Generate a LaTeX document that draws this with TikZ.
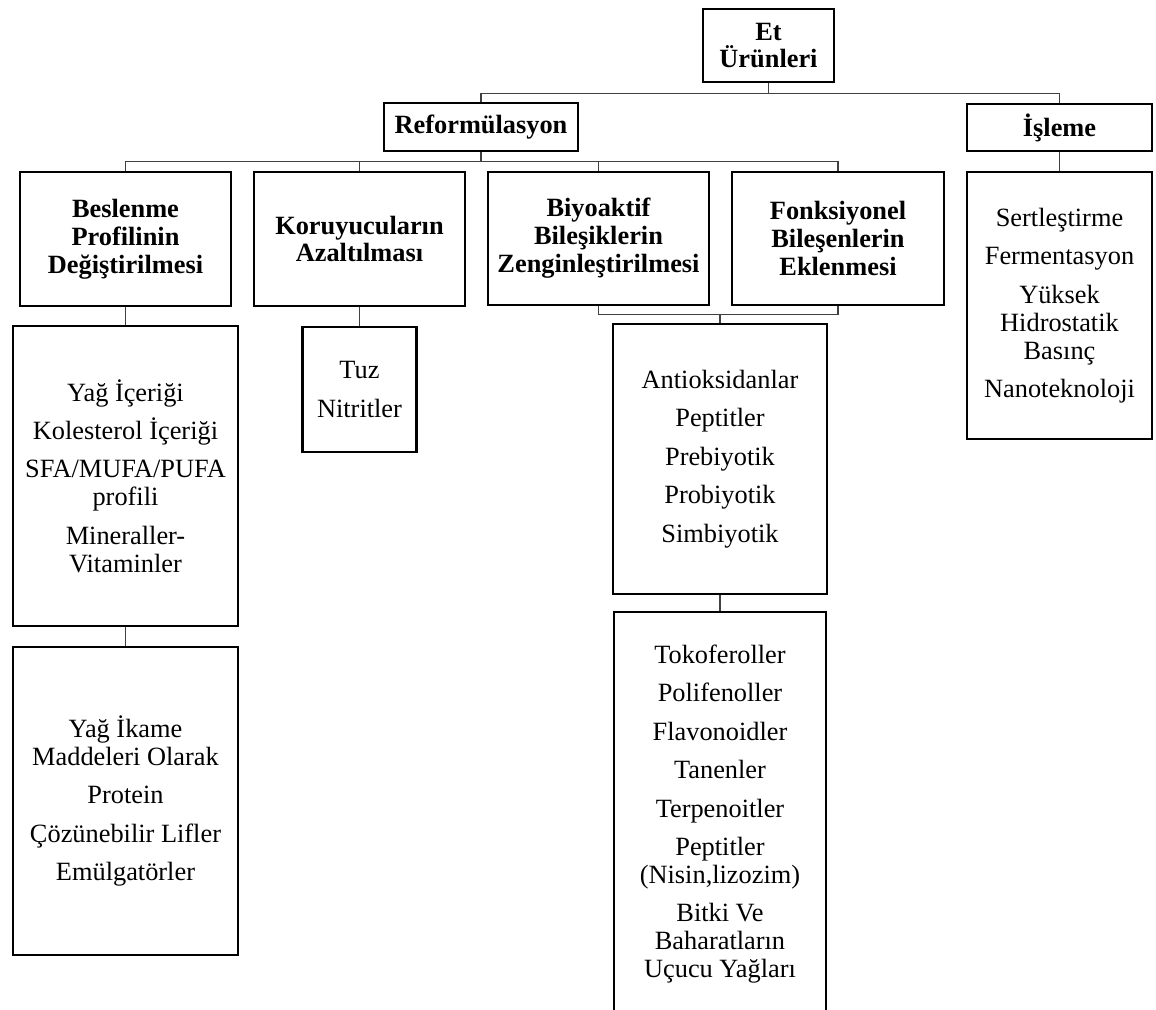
\documentclass[tikz,border=0pt]{standalone}
\usepackage{fontspec}
\setmainfont{Liberation Serif}
\usetikzlibrary{positioning}

\begin{document}
\begin{tikzpicture}[x=0.02cm,y=-0.02cm,
  box/.style={draw,line width=1.5pt,align=center,inner sep=0pt,
    font=\fontsize{15}{15.9}\selectfont},
  head/.style={box,font=\fontsize{15}{15.9}\selectfont\bfseries},
  conn/.style={draw=black!75,line width=0.6pt}]
  \useasboundingbox (0,0) rectangle (1156,1009);
  \clip (0,0) rectangle (1156,1009);
  % top levels
  \node[head,minimum width=2.62cm,minimum height=1.46cm] (et) at (768.5,45.5) {Et\\ Ürünleri};
  \node[head,minimum width=3.88cm,minimum height=0.96cm] (ref) at (481,127) {Reformülasyon};
  \node[head,minimum width=3.7cm,minimum height=0.94cm] (isl) at (1059.5,127.5) {İşleme};
  \node[head,minimum width=4.22cm,minimum height=2.68cm] (bes) at (125.5,239) {Beslenme\\ Profilinin\\ Değiştirilmesi};
  \node[head,minimum width=4.22cm,minimum height=2.68cm] (kor) at (359.5,239) {Koruyucuların\\ Azaltılması};
  \node[head,minimum width=4.42cm,minimum height=2.66cm] (biy) at (598.5,238.5) {Biyoaktif\\ Bileşiklerin\\ Zenginleştirilmesi};
  \node[head,minimum width=4.24cm,minimum height=2.66cm] (fon) at (838,238.5) {Fonksiyonel\\ Bileşenlerin\\ Eklenmesi};
  % lists
  \node[box,minimum width=4.5cm,minimum height=6cm] (yag) at (125.5,476) {Yağ İçeriği\\[6pt] Kolesterol İçeriği\\[6pt] SFA/MUFA/PUFA\\ profili\\[6pt] Mineraller-\\ Vitaminler};
  \node[box,minimum width=4.5cm,minimum height=6.16cm] (ika) at (125.5,801) {Yağ İkame\\ Maddeleri Olarak\\[6pt] Protein\\[6pt] Çözünebilir Lifler\\[6pt] Emülgatörler};
  \node[box,minimum width=2.28cm,minimum height=2.5cm] (tuz) at (359.5,389.5) {Tuz\\[6pt] Nitritler};
  \node[box,minimum width=4.28cm,minimum height=5.4cm] (ant) at (720,459) {Antioksidanlar\\[6pt] Peptitler\\[6pt] Prebiyotik\\[6pt] Probiyotik\\[6pt] Simbiyotik};
  \node[box,minimum width=4.24cm,minimum height=8.08cm] (tok) at (720,814) {Tokoferoller\\[6pt] Polifenoller\\[6pt] Flavonoidler\\[6pt] Tanenler\\[6pt] Terpenoitler\\[6pt] Peptitler\\ (Nisin,lizozim)\\[6pt] Bitki Ve\\ Baharatların\\ Uçucu Yağları};
  \node[box,minimum width=3.7cm,minimum height=5.34cm] (isc) at (1059.5,305.5) {Sertleştirme\\[6pt] Fermentasyon\\[6pt] Yüksek\\ Hidrostatik\\ Basınç\\[6pt] Nanoteknoloji};
  % connectors
  \draw[conn] (et.south) -- ++(0,10) -| (ref.north);
  \draw[conn] (et.south) -- ++(0,10) -| (isl.north);
  \foreach \n in {bes,kor,biy,fon}
    \draw[conn] (ref.south) -- ++(0,9) -| (\n.north);
  \draw[conn] (isl) -- (isc);
  \draw[conn] (bes) -- (yag);
  \draw[conn] (yag) -- (ika);
  \draw[conn] (kor) -- (tuz);
  \draw[conn] (biy.south) -- ++(0,8) -| (ant.north);
  \draw[conn] (fon.south) -- ++(0,8) -| (ant.north);
  \draw[conn] (ant) -- (tok);
\end{tikzpicture}
\end{document}
